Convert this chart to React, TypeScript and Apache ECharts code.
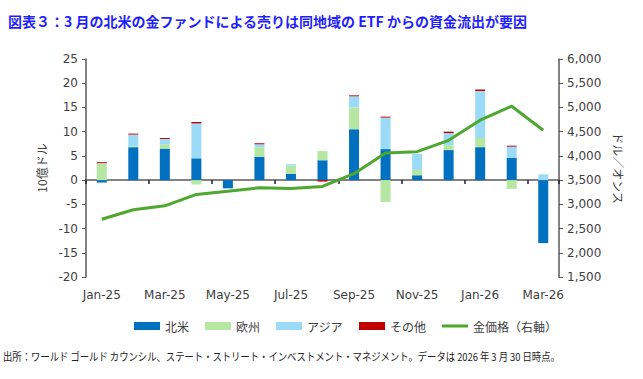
import React, { useEffect, useRef } from "react";
import * as echarts from "echarts";

const categories = ["Jan-25","Feb-25","Mar-25","Apr-25","May-25","Jun-25","Jul-25","Aug-25","Sep-25","Oct-25","Nov-25","Dec-25","Jan-26","Feb-26","Mar-26"];
const northAmerica = [-0.5, 6.8, 6.5, 4.5, -1.7, 4.8, 1.3, 4.1, 10.5, 6.4, 1.0, 6.2, 6.8, 4.6, -13.0];
const europe = [3.4, 0.2, 0.9, -0.9, 0, 2.0, 1.7, 1.9, 4.5, -4.5, 1.1, 1.0, 1.9, -1.8, 0];
const asia = [0.1, 2.4, 1.1, 7.2, 0, 0.6, 0.3, 0, 2.3, 6.5, 3.3, 2.5, 9.7, 2.3, 1.2];
const others = [0.2, 0.2, 0.2, 0.3, 0, 0.2, 0, -0.3, 0.2, 0.2, 0, 0.3, 0.3, 0.2, 0];
const goldPrice = [2693, 2887, 2970, 3204, 3272, 3342, 3328, 3370, 3632, 4060, 4087, 4322, 4736, 5026, 4530];

const seriesNames = ["北米", "欧州", "アジア", "その他", "金価格（右軸）"];
const titleText = "図表３：3 月の北米の金ファンドによる売りは同地域の ETF からの資金流出が要因";
const sourceText = "出所：ワールド ゴールド カウンシル、ステート・ストリート・インベストメント・マネジメント。データは 2026 年 3 月 30 日時点。";

const JP = '"Noto Sans CJK JP", "Noto Sans", sans-serif';
const NUM = '"DejaVu Sans", sans-serif';

export default function App() {
  const ref = useRef<HTMLDivElement>(null);
  useEffect(() => {
    if (!ref.current) return;
    const chart = echarts.init(ref.current, null, { renderer: "svg" });
    const axisColor = "#595959";
    const labelColor = "#404040";
    const barSeries = [
      { name: seriesNames[0], data: northAmerica, color: "#0070C0" },
      { name: seriesNames[1], data: europe, color: "#B5E6A2" },
      { name: seriesNames[2], data: asia, color: "#9BDBF7" },
      { name: seriesNames[3], data: others, color: "#C00000" },
    ].map((s) => ({
      name: s.name,
      type: "bar",
      stack: "flows",
      barWidth: 10,
      xAxisIndex: 0,
      yAxisIndex: 0,
      data: s.data,
      itemStyle: { color: s.color },
    }));
    chart.setOption({
      animation: false,
      textStyle: { fontFamily: JP },
      title: {
        text: titleText,
        left: 3,
        top: 9,
        textStyle: { fontFamily: JP, fontSize: 14, fontWeight: "bold", color: "#1F1FFF" },
      },
      graphic: [
        {
          type: "text",
          x: 3,
          y: 351,
          scaleX: 0.85,
          style: { text: sourceText, fontFamily: JP, fontSize: 11, fill: "#222" },
        },
      ],
      legend: {
        left: 129,
        top: 315,
        itemWidth: 26,
        itemHeight: 8,
        itemGap: 16,
        symbolKeepAspect: true,
        textStyle: { fontFamily: JP, fontSize: 12, color: labelColor },
        data: seriesNames.map((n, i) =>
          i < 4 ? { name: n, icon: "rect" } : { name: n, icon: "path://M0,0L26,0L26,3L0,3Z" }
        ),
      },
      grid: { left: 86, right: 84, top: 59, bottom: 102, containLabel: false },
      xAxis: [
        {
          type: "category",
          data: categories,
          position: "bottom",
          axisLine: { show: false, onZero: false },
          axisTick: { show: false },
          axisLabel: { interval: 1, color: labelColor, fontFamily: NUM, fontSize: 12, margin: 12 },
        },
        {
          type: "category",
          data: categories,
          position: "bottom",
          axisLine: { show: true, onZero: true, onZeroAxisIndex: 0, lineStyle: { color: axisColor, width: 1.5 } },
          axisTick: { show: true, interval: 1, length: 4, lineStyle: { color: "#222", width: 1.5 } },
          axisLabel: { show: false },
        },
      ],
      yAxis: [
        {
          type: "value",
          min: -20,
          max: 25,
          interval: 5,
          name: "10億ドル",
          nameLocation: "middle",
          nameRotate: 90,
          nameGap: 36,
          nameTextStyle: { fontFamily: JP, fontSize: 12, color: labelColor },
          axisLine: { show: true, lineStyle: { color: axisColor, width: 1.5 } },
          axisTick: { show: true, length: 4, lineStyle: { color: axisColor } },
          axisLabel: { color: labelColor, fontFamily: NUM, fontSize: 12, margin: 8 },
          splitLine: { show: false },
        },
        {
          type: "value",
          min: 1500,
          max: 6000,
          interval: 500,
          position: "right",
          name: "ドル／オンス",
          nameLocation: "middle",
          nameRotate: -90,
          nameGap: 52,
          nameTextStyle: { fontFamily: JP, fontSize: 12, color: labelColor },
          axisLine: { show: true, lineStyle: { color: axisColor, width: 1.5 } },
          axisTick: { show: true, length: 4, lineStyle: { color: axisColor } },
          axisLabel: {
            color: labelColor,
            fontFamily: NUM,
            fontSize: 12,
            margin: 8,
            formatter: (v: number) => v.toLocaleString("en-US"),
          },
          splitLine: { show: false },
        },
      ],
      series: [
        ...barSeries,
        {
          name: seriesNames[4],
          type: "line",
          xAxisIndex: 0,
          yAxisIndex: 1,
          data: goldPrice,
          symbol: "none",
          lineStyle: { color: "#4EA72E", width: 3 },
          itemStyle: { color: "#4EA72E" },
          z: 5,
        },
      ],
    });
    return () => chart.dispose();
  }, []);
  return <div ref={ref} style={{ width: 643, height: 379, position: "absolute", left: 0, top: 0 }} />;
}
